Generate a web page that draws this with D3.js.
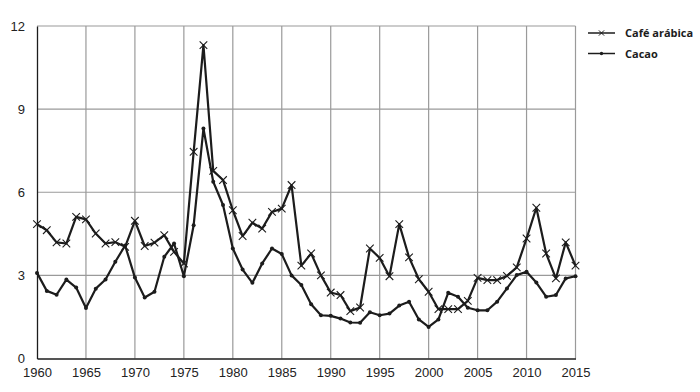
<!DOCTYPE html>
<html><head><meta charset="utf-8">
<script src="https://cdn.jsdelivr.net/npm/d3@7"></script>
<style>body{margin:0;background:#fff}svg{display:block}</style>
</head><body><svg id="c" width="700" height="392"></svg>
<script>
const years = d3.range(1960, 2016);
const cafe = [4.85,4.63,4.19,4.15,5.11,5.02,4.51,4.15,4.2,4.03,4.97,4.06,4.18,4.45,3.85,3.43,7.46,11.31,6.77,6.44,5.35,4.42,4.9,4.69,5.29,5.41,6.26,3.35,3.79,3.0,2.38,2.29,1.71,1.84,3.97,3.63,2.97,4.85,3.65,2.86,2.41,1.78,1.78,1.78,2.08,2.91,2.83,2.83,2.98,3.29,4.33,5.44,3.79,2.89,4.19,3.35];
const cacao = [3.09,2.44,2.3,2.85,2.56,1.82,2.52,2.85,3.49,4.08,2.92,2.2,2.41,3.67,4.15,2.97,4.81,8.3,6.38,5.54,3.97,3.21,2.73,3.43,3.97,3.77,3.0,2.65,1.96,1.56,1.54,1.44,1.3,1.29,1.67,1.56,1.62,1.91,2.05,1.41,1.14,1.41,2.37,2.23,1.83,1.74,1.74,2.05,2.53,3.01,3.13,2.74,2.23,2.29,2.89,2.97];
const xTicks = [1960,1965,1970,1975,1980,1985,1990,1995,2000,2005,2010,2015];
const yTicks = [0,3,6,9,12];
const seriesNames = ["Café arábica","Cacao"];

const svg = d3.select("#c");
const x = d3.scaleLinear().domain([1960,2015]).range([37,575.5]);
const y = d3.scaleLinear().domain([0,12]).range([358.5,26]);
const grid = "#9a9a9a", ink = "#1c1c1c";

const g = svg.append("g");
g.selectAll(".vg").data(xTicks.slice(1)).join("line")
  .attr("x1",d=>x(d)).attr("x2",d=>x(d)).attr("y1",y(12)).attr("y2",y(0))
  .attr("stroke",grid).attr("stroke-width",1.2);
g.selectAll(".hg").data(yTicks.slice(1)).join("line")
  .attr("x1",x(1960)).attr("x2",x(2015)).attr("y1",d=>y(d)).attr("y2",d=>y(d))
  .attr("stroke",grid).attr("stroke-width",1.2);
const xa = svg.append("g").attr("transform",`translate(0,${y(0)})`)
  .call(d3.axisBottom(x).tickValues(xTicks).tickFormat(d3.format("d")).tickSize(0).tickPadding(9));
xa.select(".domain").attr("stroke",ink).attr("stroke-width",1.3);
const ya = svg.append("g").attr("transform",`translate(${x(1960)},0)`)
  .call(d3.axisLeft(y).tickValues(yTicks).tickSize(0).tickPadding(12));
ya.select(".domain").attr("stroke",ink).attr("stroke-width",1.3);
svg.selectAll(".tick text").attr("font-family","Liberation Sans, Arial, sans-serif").attr("font-size",13).attr("fill","#222");

const line = d3.line().x((d,i)=>x(years[i])).y(d=>y(d));
svg.append("path").datum(cacao).attr("d",line).attr("fill","none").attr("stroke",ink).attr("stroke-width",2.2).attr("stroke-linejoin","round");
svg.append("path").datum(cafe).attr("d",line).attr("fill","none").attr("stroke",ink).attr("stroke-width",2.2).attr("stroke-linejoin","round");

const s = 3.8;
svg.append("g").selectAll("path").data(cafe).join("path")
  .attr("d",(d,i)=>{const cx=x(years[i]),cy=y(d);return `M${cx-s},${cy-s}L${cx+s},${cy+s}M${cx-s},${cy+s}L${cx+s},${cy-s}`;})
  .attr("stroke",ink).attr("stroke-width",1.1);
svg.append("g").selectAll("circle").data(cacao).join("circle")
  .attr("cx",(d,i)=>x(years[i])).attr("cy",d=>y(d)).attr("r",2).attr("fill",ink);

const lg = svg.append("g");
const ls = 2.6;
[0,1].forEach(k=>{
  const ly = 33 + k*20.5;
  lg.append("line").attr("x1",588).attr("x2",615).attr("y1",ly).attr("y2",ly).attr("stroke",ink).attr("stroke-width",1.5);
  if(k===0){
    const cx=601.5;
    lg.append("path").attr("d",`M${cx-ls},${ly-ls}L${cx+ls},${ly+ls}M${cx-ls},${ly+ls}L${cx+ls},${ly-ls}`).attr("stroke",ink).attr("stroke-width",1);
  } else {
    lg.append("circle").attr("cx",601.5).attr("cy",ly).attr("r",1.7).attr("fill",ink);
  }
  lg.append("text").attr("x",625).attr("y",ly+4).text(seriesNames[k])
    .attr("font-family","Open Sans, sans-serif").attr("font-weight","bold").attr("font-size",11).attr("fill","#1c1c1c");
});
</script></body></html>
